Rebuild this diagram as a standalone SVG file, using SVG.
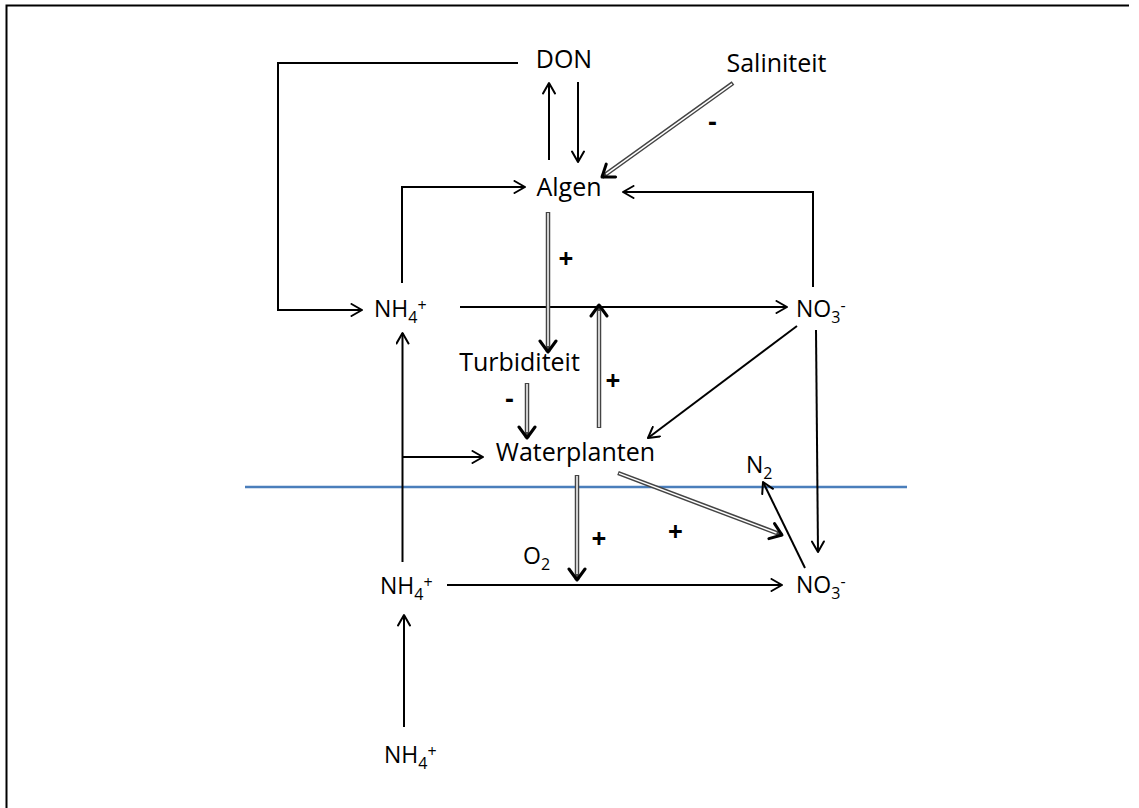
<svg xmlns="http://www.w3.org/2000/svg" width="1139" height="808" viewBox="0 0 1139 808">
<style>
text{font-family:"Open Sans","Liberation Sans",sans-serif;font-size:25px;fill:#000}
.c{text-anchor:middle}
.f{font-size:23px}
.sg{font-weight:bold;font-size:26px}
.sub{font-size:16px}
.ln{fill:none;stroke:#000;stroke-width:2}
.la{fill:none;stroke:#000;stroke-width:2;marker-end:url(#ah)}
.dbo{fill:none;stroke:#444;stroke-width:4.5;marker-end:url(#dh)}
.dbi{fill:none;stroke:#fff;stroke-width:1.5}
</style>
<defs>
<marker id="ah" viewBox="0 0 14 14" refX="12" refY="7" markerWidth="14" markerHeight="14" markerUnits="userSpaceOnUse" orient="auto"><path d="M1.5,1 L12,7 L1.5,13" fill="none" stroke="#000" stroke-width="2" stroke-linejoin="round" stroke-linecap="round"/></marker>
<marker id="dh" viewBox="0 0 20 20" refX="16" refY="10" markerWidth="20" markerHeight="20" markerUnits="userSpaceOnUse" orient="auto"><path d="M5,2 L16,10 L5,18" fill="none" stroke="#000" stroke-width="3" stroke-linejoin="round" stroke-linecap="round"/></marker>
</defs>
<rect width="1139" height="808" fill="#fff"/>
<g id="frame">
<path class="ln" d="M6.5,808 V5.5 H1129"/>
</g>
<g id="surface">
<line x1="245" y1="487" x2="907" y2="487" stroke="#4a7ebb" stroke-width="2.5"/>
</g>
<g id="connectors">
<path class="la" d="M518,63 H278 V310 H362"/>
<path class="la" d="M402,283 V187 H525"/>
<path class="la" d="M813,287 V192 H623"/>
<path class="la" d="M549,160 V83"/>
<path class="la" d="M578,82 V162"/>
<path class="la" d="M460,307 H787"/>
<path class="la" d="M402,457 H483"/>
<path class="la" d="M402.5,562 V333"/>
<path class="la" d="M404,727 V615"/>
<path class="la" d="M447,585 H782"/>
<path class="la" d="M805,568 L763,482"/>
<path class="la" d="M816,330 L818,552"/>
<path class="la" d="M797,326 L648,438"/>
<path class="dbo" d="M733,83 L602,177"/><path class="dbi" d="M732,83.8 L606.1,174.1"/>
<path class="dbo" d="M548,212 V352"/><path class="dbi" d="M548,213 V346"/>
<path class="dbo" d="M599,428 V305"/><path class="dbi" d="M599,427 V311"/>
<path class="dbo" d="M527,383 V438"/><path class="dbi" d="M527,384 V432"/>
<path class="dbo" d="M577,475 V580"/><path class="dbi" d="M577,476 V574"/>
<path class="dbo" d="M618,473 L782,535"/><path class="dbi" d="M619,473.4 L776.5,533"/>
<text class="sg c" x="712.5" y="131">-</text>
<text class="sg c" x="566" y="268">+</text>
<text class="sg c" x="613" y="390">+</text>
<text class="sg c" x="509.5" y="408">-</text>
<text class="sg c" x="599" y="548">+</text>
<text class="sg c" x="675.5" y="541">+</text>
</g>
<g id="node-don"><text class="c" x="564" y="68">DON</text></g>
<g id="node-saliniteit"><text class="c" x="776.5" y="72">Saliniteit</text></g>
<g id="node-algen"><text class="c" x="569" y="196">Algen</text></g>
<g id="node-turbiditeit"><text class="c" x="519.5" y="371">Turbiditeit</text></g>
<g id="node-waterplanten"><text class="c" x="575.5" y="461">Waterplanten</text></g>
<g id="node-nh4-water"><text class="f" x="374" y="317">NH<tspan class="sub" dy="6">4</tspan><tspan class="sub" dy="-12">+</tspan></text></g>
<g id="node-no3-water"><text class="f" x="796" y="317">NO<tspan class="sub" dy="6">3</tspan><tspan class="sub" dy="-12">-</tspan></text></g>
<g id="node-n2"><text class="f" x="746" y="473">N<tspan class="sub" dy="6">2</tspan></text></g>
<g id="node-o2"><text class="f" x="523" y="564">O<tspan class="sub" dy="6">2</tspan></text></g>
<g id="node-nh4-sediment"><text class="f" x="380" y="594">NH<tspan class="sub" dy="6">4</tspan><tspan class="sub" dy="-12">+</tspan></text></g>
<g id="node-no3-sediment"><text class="f" x="796" y="593">NO<tspan class="sub" dy="6">3</tspan><tspan class="sub" dy="-12">-</tspan></text></g>
<g id="node-nh4-bottom"><text class="f" x="384" y="763">NH<tspan class="sub" dy="6">4</tspan><tspan class="sub" dy="-12">+</tspan></text></g>
</svg>
